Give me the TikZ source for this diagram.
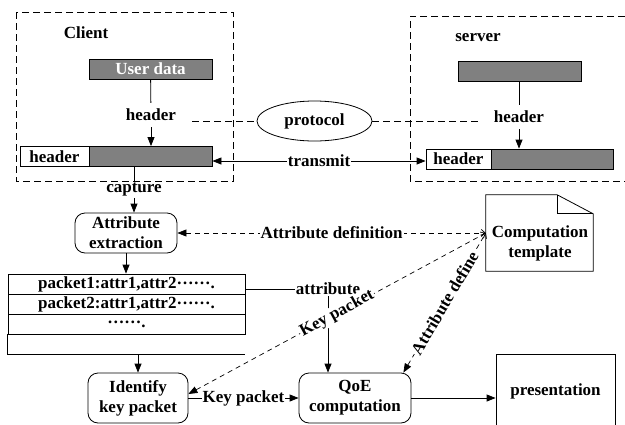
\documentclass[tikz,border=0pt]{standalone}
\usepackage{fontspec}
\setmainfont{Liberation Serif}
\usetikzlibrary{arrows.meta,shapes.geometric}

\definecolor{bargray}{RGB}{128,128,128}
% mid-height dot run used in the packet table
\newcommand{\dotrun}{\raisebox{0.24em}{……}}

\tikzset{
  base/.style={font=\fontsize{17}{20}\selectfont\bfseries},
  lbl/.style={base, inner sep=1pt},
  bar/.style={base, draw, line width=0.8pt, fill=bargray, inner sep=0pt, minimum height=20pt},
  hdrcell/.style={base, draw, line width=0.8pt, fill=white, inner sep=0pt, minimum height=20pt},
  stepbox/.style={base, draw, line width=0.8pt, rounded corners=10pt, align=center, inner sep=0pt},
  rowcell/.style={base, draw, line width=0.8pt, minimum width=237pt, minimum height=20pt, inner sep=0pt},
  groupbox/.style={line width=0.8pt, dash pattern=on 7pt off 4pt},
  flow/.style={line width=0.8pt, -{Triangle[length=9pt,width=7pt]}},
  link/.style={line width=0.7pt, dash pattern=on 5pt off 4pt,
    {Triangle[length=9pt,width=7pt]}-{Straight Barb[length=4pt,width=7pt]}},
}

\begin{document}
\begin{tikzpicture}[x=1pt,y=-1pt]
\useasboundingbox (0,0) rectangle (625,424);

% ---- client side ----
\draw[groupbox] (16,12) rectangle (233,181);
\node[lbl] (client) at (86,33) {Client};
\node[bar, minimum width=123pt, text=white] (userdata) at (150.5,69) {User data};
\node[lbl, inner ysep=6pt] (hdr1) at (151,115) {header};
\node[hdrcell, minimum width=69pt] (chdr) at (54.5,156.5) {header};
\node[bar, minimum width=123pt] (cbar) at (150.5,156.5) {};
\draw[line width=0.8pt] (userdata) -- (hdr1);
\draw[flow] (hdr1) -- (hdr1 |- cbar.north);

% ---- protocol ----
\node[base, draw, ellipse, line width=0.8pt, minimum width=115pt, minimum height=40pt, inner sep=0pt] (protocol) at (314.5,121) {protocol};
\coordinate (pl) at (192,121);
\coordinate (pr) at (480,121);
\draw[groupbox] (pl) -- (protocol);
\draw[groupbox] (protocol) -- (pr);

% ---- server side ----
\draw[groupbox] (625,16) -- (410,16) -- (410,181) -- (625,181);
\node[lbl] (server) at (478,38) {server};
\node[bar, minimum width=123pt] (sdata) at (519.5,71) {};
\node[lbl, inner ysep=6pt] (hdr2) at (519,117) {header};
\node[hdrcell, minimum width=65pt] (shdr) at (458.5,159) {header};
\node[bar, minimum width=122pt] (sbar) at (552,159) {};
\draw[line width=0.8pt] (sdata.south -| hdr2) -- (hdr2);
\draw[flow] (hdr2) -- (hdr2 |- sbar.north);

% ---- transmission ----
\draw[line width=0.8pt, {Triangle[length=9pt,width=7pt]}-{Triangle[length=9pt,width=7pt]}]
  ([yshift=-4.5pt]cbar.east) -- ([yshift=-2pt]shdr.west)
  node[midway, lbl, fill=white] (transmit) {transmit};

% ---- capture and extraction ----
\node[lbl] (capture) at (134,190) {capture};
\node[stepbox, minimum width=102pt, minimum height=40pt] (extract) at (126,233) {Attribute\\extraction};
\draw[line width=0.8pt] (capture.north |- cbar.south) -- (capture);
\draw[flow] (capture) -- (capture |- extract.north);

% ---- packet table ----
\node[rowcell] (row1) at (126.5,284) {packet1:attr1,attr2\dotrun.};
\node[rowcell] (row2) at (126.5,304) {packet2:attr1,attr2\dotrun.};
\node[rowcell] (row3) at (126.5,324) {\dotrun.};
\node[minimum width=237pt, minimum height=20pt, inner sep=0pt] (row4) at (126.5,344) {};
\draw[line width=0.8pt] (row4.north west) -- (row4.south west) -- (row4.south east);
\draw[flow] (extract) -- (extract |- row1.north);

% ---- attribute feed ----
\node[lbl] (attr) at (328,289) {attribute};
\draw[line width=0.8pt] (row1.east |- attr) -- (attr);

% ---- lower processing row ----
\node[stepbox, minimum width=100pt, minimum height=50pt] (identify) at (138,398) {Identify\\key packet};
\node[stepbox, minimum width=112pt, minimum height=50pt] (qoe) at (355,398) {QoE\\computation};
\node[base, draw, line width=0.8pt, minimum width=119pt, minimum height=74pt, inner sep=0pt] (present) at (555.5,391) {presentation};
\draw[flow] (attr) -- (attr |- qoe.north);
\draw[flow] (row4.south -| identify) -- (identify);
\draw[flow] (identify) -- (qoe) node[midway, lbl, fill=white] (kp) {Key packet};
\draw[flow] (qoe) -- (qoe -| present.west);

% ---- computation template (folded note) ----
\node[minimum width=107pt, minimum height=76pt, inner sep=0pt] (template) at (539.5,233) {};
\draw[line width=0.8pt] (template.north west) -- ([xshift=-36pt]template.north east)
  -- ([yshift=-19pt]template.north east) -- (template.south east)
  -- (template.south west) -- cycle;
\draw[line width=0.8pt] ([xshift=-36pt]template.north east) |- ([yshift=-19pt]template.north east);
\node[base, align=center] (tmpltext) at (540,243) {Computation\\template};

% ---- template links ----
\draw[link] (extract) -- (template.west)
  node[midway, lbl, fill=white] (adef) {Attribute definition};
\draw[link] ([yshift=4pt]identify.east) -- (template.west)
  node[midway, sloped, lbl, fill=white] (kpd) {Key packet};
\draw[link] ([xshift=-8pt]qoe.north east) -- (template.west)
  node[midway, sloped, lbl, fill=white] (adf) {Attribute define};
\end{tikzpicture}
\end{document}
